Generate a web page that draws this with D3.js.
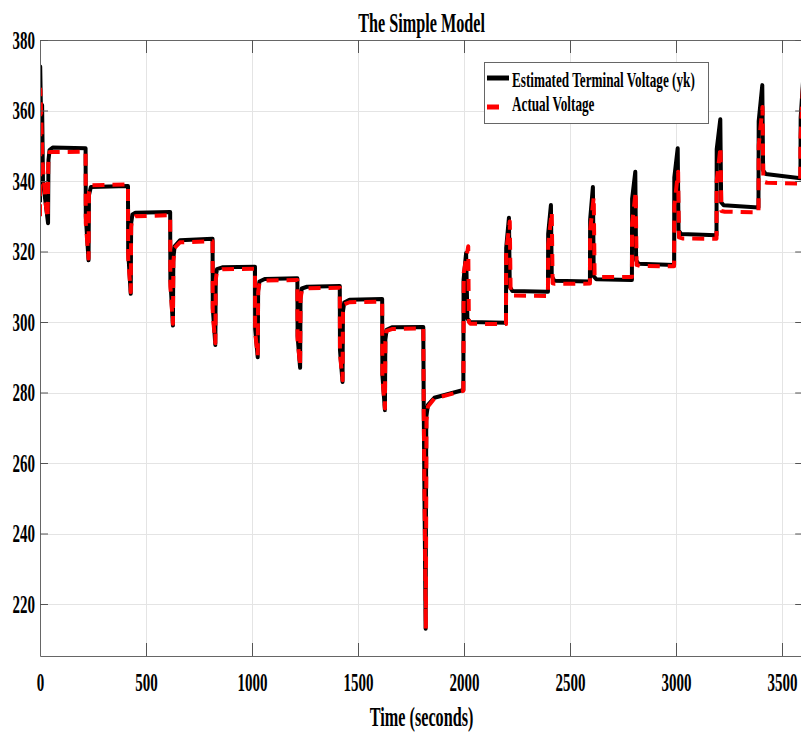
<!DOCTYPE html>
<html>
<head>
<meta charset="utf-8">
<script src="https://cdn.jsdelivr.net/npm/d3@7"></script>
<style>
  body { margin: 0; background: #fff; }
  svg text { font-family: "Liberation Serif", "Times New Roman", serif; font-weight: bold; fill: #000; }
</style>
</head>
<body>
<svg class="chart-svg"></svg>
<script>
const WIDTH = 801;
const HEIGHT = 733;
const SQUEEZE = 0.6; // the figure is squashed horizontally, so is its text

const title = "The Simple Model";
const xLabel = "Time (seconds)";
const xTicks = [0, 500, 1000, 1500, 2000, 2500, 3000, 3500];
const yTicks = [220, 240, 260, 280, 300, 320, 340, 360, 380];
const legendLabels = ["Estimated Terminal Voltage (yk)", "Actual Voltage"];

// [time (s), voltage]
const estimated = [
  [0, 334], [1, 372.5], [4, 362], [10, 361.5], [14, 340], [30, 332], [38, 328], [40, 346], [45, 348.8], [60, 349.5], [215, 349.3],
  [216, 330], [229, 317.5], [231, 336], [240, 338.3], [415, 338.6],
  [416, 320], [428, 308], [430, 328], [436, 330.5], [450, 331], [614, 331.2],
  [615, 312], [627, 299], [629, 318], [635, 321.5], [660, 323.2], [814, 323.6],
  [815, 304], [827, 293.5], [829, 313], [835, 315], [860, 315.5], [1014, 315.7],
  [1015, 298], [1027, 290], [1029, 309], [1035, 311.5], [1060, 312.2], [1214, 312.4],
  [1215, 296], [1227, 287], [1229, 307], [1235, 309.5], [1260, 310], [1414, 310.2],
  [1415, 292], [1427, 283], [1429, 303], [1435, 305.5], [1460, 306.3], [1614, 306.5],
  [1615, 285], [1627, 275], [1629, 295], [1635, 297.8], [1660, 298.5], [1808, 298.6],
  [1810, 276], [1819, 213], [1822, 273], [1830, 276.5], [1860, 278.5], [1997, 280.7],
  [1998, 312], [2010, 319.6], [2016, 301], [2028, 300], [2198, 299.8],
  [2199, 321], [2212, 329.6], [2216, 310], [2228, 308.8], [2396, 308.6],
  [2397, 325], [2410, 333.2], [2414, 313], [2426, 311.7], [2594, 311.5],
  [2595, 329], [2608, 338.3], [2612, 313], [2624, 312.1], [2792, 311.9],
  [2793, 335], [2808, 342.6], [2812, 317.5], [2824, 316.5], [2991, 316.2],
  [2992, 341], [3008, 349.3], [3012, 326], [3024, 325], [3191, 324.6],
  [3192, 349], [3209, 357.5], [3213, 334], [3225, 333.1], [3389, 332.5],
  [3390, 357], [3407, 367.2], [3411, 343], [3423, 342], [3587, 340.8],
  [3588, 358], [3600, 369]
];

const actual = [
  [0, 330], [1.5, 366], [5, 360], [12, 345], [28, 333], [36, 329.5], [39, 345], [45, 348.2], [215, 348.3],
  [216, 328], [229, 318], [231, 337], [240, 338.8], [415, 339],
  [416, 318], [428, 308.5], [430, 327], [436, 329.5], [450, 330], [614, 330.3],
  [615, 310], [627, 299.5], [629, 317], [635, 321], [660, 322.6], [814, 322.9],
  [815, 302], [827, 294], [829, 312], [835, 314.5], [860, 315], [1014, 315.1],
  [1015, 297], [1027, 290.5], [1029, 308.5], [1035, 311], [1060, 311.8], [1214, 311.9],
  [1215, 295], [1227, 287.5], [1229, 306.5], [1235, 309], [1260, 309.6], [1414, 309.7],
  [1415, 291], [1427, 283.5], [1429, 302.5], [1435, 305], [1460, 305.6], [1614, 305.8],
  [1615, 284], [1627, 275.5], [1629, 294.5], [1635, 297.5], [1660, 298], [1808, 298.2],
  [1810, 275], [1820, 213], [1823, 272], [1830, 276], [1860, 278.3], [1997, 280.5],
  [1999, 314], [2020, 321.5], [2023, 300], [2030, 299.5], [2198, 299.4],
  [2199, 320], [2216, 328.5], [2220, 308], [2230, 307.5], [2396, 307.4],
  [2397, 322], [2414, 331.2], [2418, 311], [2430, 310.8], [2594, 310.9],
  [2595, 326], [2612, 335.5], [2616, 313.2], [2630, 312.8], [2792, 312.8],
  [2793, 328], [2810, 337], [2814, 316.2], [2830, 315.9], [2991, 315.8],
  [2992, 333], [3010, 342.6], [3014, 324], [3030, 323.7], [3191, 323.6],
  [3192, 340], [3210, 349.7], [3214, 331.5], [3230, 331.3], [3389, 331.1],
  [3390, 350], [3408, 361], [3412, 339.8], [3430, 339.5], [3586, 339.3],
  [3587, 352], [3600, 368]
];

const svg = d3
  .select(".chart-svg")
  .attr("width", WIDTH)
  .attr("height", HEIGHT);

const x = d3.scaleLinear().domain([0, 3600]).range([40, 803.2]);
const y = d3.scaleLinear().domain([205.25, 380]).range([656, 40]);

const [x0, x1] = x.range();
const [y0, y1] = y.range();

const squeezed = (g, px, py) =>
  g.append("text").attr("transform", `translate(${px},${py}) scale(${SQUEEZE},1)`);

// grid
const grid = svg.append("g").attr("stroke", "#e4e4e4").attr("stroke-width", 1);
grid
  .selectAll(".gx")
  .data(xTicks)
  .join("line")
  .attr("x1", d => Math.round(x(d)) + 0.5)
  .attr("x2", d => Math.round(x(d)) + 0.5)
  .attr("y1", y1)
  .attr("y2", y0);
grid
  .selectAll(".gy")
  .data(yTicks)
  .join("line")
  .attr("y1", d => Math.round(y(d)) + 0.5)
  .attr("y2", d => Math.round(y(d)) + 0.5)
  .attr("x1", x0)
  .attr("x2", x1);

// lines
svg
  .append("clipPath")
  .attr("id", "plot-clip")
  .append("rect")
  .attr("x", x0)
  .attr("y", y1)
  .attr("width", x1 - x0)
  .attr("height", y0 - y1);

const line = d3
  .line()
  .x(d => x(d[0]))
  .y(d => y(d[1]));

const lines = svg.append("g").attr("clip-path", "url(#plot-clip)").attr("fill", "none");

lines
  .append("path")
  .datum(estimated)
  .attr("d", line)
  .attr("stroke", "#000")
  .attr("stroke-width", 4)
  .attr("stroke-linejoin", "round");

lines
  .append("path")
  .datum(actual)
  .attr("d", line)
  .attr("stroke", "#ff0000")
  .attr("stroke-width", 4)
  .attr("stroke-dasharray", "12,8")
  .attr("stroke-linejoin", "round");

// axes, MATLAB style with inward ticks on all four sides
const styleAxis = g => {
  g.attr("font-size", 25).attr("font-family", null);
  g.select(".domain").attr("stroke", "#666");
  g.selectAll(".tick line").attr("stroke", "#555");
};

svg
  .append("g")
  .attr("transform", `translate(0,${y0})`)
  .call(
    d3
      .axisBottom(x)
      .tickValues(xTicks)
      .tickFormat(d3.format("d"))
      .tickSizeInner(-13)
      .tickSizeOuter(0)
      .tickPadding(17)
  )
  .call(styleAxis)
  .selectAll(".tick text")
  .attr("transform", `scale(${SQUEEZE},1)`);

svg
  .append("g")
  .attr("transform", `translate(0,${y1})`)
  .call(d3.axisTop(x).tickValues(xTicks).tickSizeInner(-13).tickSizeOuter(0).tickFormat(""))
  .call(styleAxis);

svg
  .append("g")
  .attr("transform", `translate(${x0},0)`)
  .call(d3.axisLeft(y).tickValues(yTicks).tickSizeInner(-8).tickSizeOuter(0).tickPadding(5))
  .call(styleAxis)
  .selectAll(".tick text")
  .attr("x", -5 / SQUEEZE)
  .attr("transform", `scale(${SQUEEZE},1)`);

svg
  .append("g")
  .attr("transform", `translate(${x1},0)`)
  .call(d3.axisRight(y).tickValues(yTicks).tickSizeInner(-8).tickSizeOuter(0).tickFormat(""))
  .call(styleAxis);

// title and axis label
squeezed(svg, (x0 + x1) / 2, 32)
  .attr("text-anchor", "middle")
  .attr("font-size", 27)
  .text(title);

squeezed(svg, (x0 + x1) / 2, 726)
  .attr("text-anchor", "middle")
  .attr("font-size", 27)
  .text(xLabel);

// legend
const legend = svg.append("g");
legend
  .append("rect")
  .attr("x", 484.5)
  .attr("y", 62.5)
  .attr("width", 224)
  .attr("height", 61)
  .attr("fill", "#fff")
  .attr("stroke", "#666");

legend
  .append("line")
  .attr("x1", 487)
  .attr("x2", 509)
  .attr("y1", 78)
  .attr("y2", 78)
  .attr("stroke", "#000")
  .attr("stroke-width", 5);

legend
  .append("line")
  .attr("x1", 487)
  .attr("x2", 505)
  .attr("y1", 107)
  .attr("y2", 107)
  .attr("stroke", "#ff0000")
  .attr("stroke-width", 5)
  .attr("stroke-dasharray", "12,8");

squeezed(legend, 512, 87).attr("font-size", 22).text(legendLabels[0]);
squeezed(legend, 512, 111).attr("font-size", 22).text(legendLabels[1]);
</script>
</body>
</html>
